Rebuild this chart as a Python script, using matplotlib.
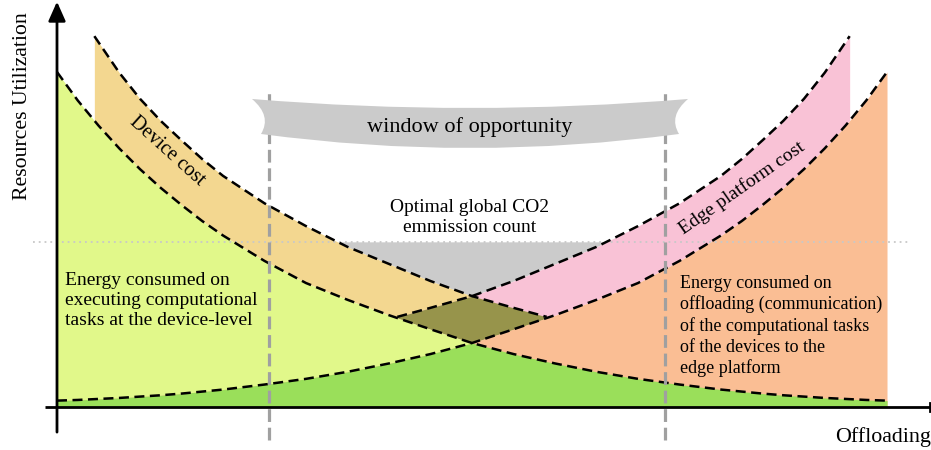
import numpy as np
import matplotlib
matplotlib.use("Agg")
import matplotlib.pyplot as plt
from matplotlib.path import Path
from matplotlib.patches import PathPatch

plt.rcParams['font.family'] = ['Liberation Serif', 'DejaVu Serif']

# ---- data ----
offload = [0, 2.5, 5, 7.5, 10, 12.5, 15, 17.5, 20, 25, 30, 35, 40, 45, 50,
           55, 60, 65, 70, 75, 80, 82.5, 85, 87.5, 90, 92.5, 95, 97.5, 100]
device_energy = [100, 91.5, 84.0, 77.2, 71.0, 65.4, 60.3, 55.5, 51.2, 43.6, 37.0,
                 32.0, 27.4, 23.2, 19.1, 15.8, 13.0, 10.5, 8.4, 6.7, 5.2,
                 4.6, 4.0, 3.5, 3.1, 2.7, 2.4, 2.1, 1.9]
offload_energy = [1.9, 2.1, 2.4, 2.7, 3.1, 3.5, 4.0, 4.6, 5.2, 6.7, 8.4, 10.5, 13.0,
                  15.8, 19.1, 23.2, 27.4, 32.0, 37.0, 43.6, 51.2, 55.5, 60.3,
                  65.4, 71.0, 77.2, 84.0, 91.5, 100]

device_cost_x = [4.5, 7.5, 10, 12.5, 15, 17.5, 20, 25, 30, 35, 40, 45, 50, 55, 59]
device_cost_top = [110.7, 99.8, 92.0, 85.4, 79.6, 74.0, 69.0, 60.8, 54.0, 47.8,
                   42.7, 37.6, 33.1, 29.6, 26.9]
edge_cost_x = [41, 45, 50, 55, 60, 65, 70, 75, 80, 82.5, 85, 87.5, 90, 92.5, 95.5]
edge_cost_top = [26.9, 29.6, 33.1, 37.6, 42.7, 47.8, 54.0, 60.8, 69.0, 74.0,
                 79.6, 85.4, 92.0, 99.8, 110.7]

optimal_level = 49.3
window_bounds = [25.5, 73.3]

# ---- colours ----
c_lgreen = '#E1F88A'
c_dgreen = '#9ADF5A'
c_orange = '#FABE94'
c_tan = '#F3D790'
c_pink = '#F9C2D6'
c_olive = '#97944B'
c_gray = '#CBCBCB'

fig = plt.figure(figsize=(9.31, 4.50), dpi=100)
ax = fig.add_axes([0, 0, 1, 1])
ax.set_xlim(-6.867, 105.30)
ax.set_ylim(-12.84, 121.49)
ax.axis('off')

x = np.array(offload, float)
D = np.array(device_energy, float)
E = np.array(offload_energy, float)
xdu = np.array(device_cost_x, float)
Du = np.array(device_cost_top, float)
xeu = np.array(edge_cost_x, float)
Eu = np.array(edge_cost_top, float)

# fine grid used only for composing fill regions
xf = np.linspace(0, 100, 2001)
Df = np.interp(xf, x, D)
Ef = np.interp(xf, x, E)
Duf = np.interp(xf, xdu, Du)
Euf = np.interp(xf, xeu, Eu)
in_d = (xf >= xdu[0] - 1e-9) & (xf <= xdu[-1] + 1e-9)
in_e = (xf >= xeu[0] - 1e-9) & (xf <= xeu[-1] + 1e-9)

# gray optimal region
Vf = np.where(xf < xeu[0], Duf, np.where(xf > xdu[-1], Euf, np.maximum(Duf, Euf)))
ax.fill_between(xf, Vf, optimal_level, where=Vf < optimal_level, interpolate=True,
                color=c_gray, lw=0, zorder=1)

# cost bands
ax.fill_between(xf, Df, Duf, where=in_d, color=c_tan, lw=0, zorder=2)
ax.fill_between(xf, Ef, Euf, where=in_e, color=c_pink, lw=0, zorder=2)
lo = np.maximum(Df, Ef)
hi = np.minimum(Duf, Euf)
ax.fill_between(xf, lo, hi, where=in_d & in_e & (hi > lo), interpolate=True,
                color=c_olive, lw=0, zorder=3)

# energy areas
ax.fill_between(x, 0, D, color=c_lgreen, lw=0, zorder=4)
ax.fill_between(x, 0, E, color=c_orange, lw=0, zorder=5)
ax.fill_between(xf, 0, np.minimum(Df, Ef), color=c_dgreen, lw=0, zorder=6)

# dashed curves
dash = dict(color='black', lw=1.8, linestyle=(0, (4.0, 2.2)), zorder=8,
            dash_capstyle='butt', dash_joinstyle='round')
ax.plot(x, D, **dash)
ax.plot(x, E, **dash)
ax.plot(xdu, Du, **dash)
ax.plot(xeu, Eu, **dash)

# dotted level line
ax.plot([-2.9, 102.8], [optimal_level, optimal_level], color='#C8C8C8', lw=1.3,
        linestyle=(0, (1, 2.2)), zorder=7)

# window bounds
for wb in window_bounds:
    ax.plot([wb, wb], [-9.85, 95.2], color='#A0A0A0', lw=2.3,
            linestyle=(0, (4, 1.8)), zorder=9)

# banner
def px(pxx, pxy):
    return ((pxx - 57) / 8.3, (407 - pxy) / 3.35)

verts = [px(252, 99), px(470, 117), px(688, 99),
         px(668, 116), px(679, 134),
         px(470, 162), px(261, 134),
         px(272, 116), px(252, 99), px(252, 99)]
codes = [Path.MOVETO, Path.CURVE3, Path.CURVE3,
         Path.CURVE3, Path.CURVE3,
         Path.CURVE3, Path.CURVE3,
         Path.CURVE3, Path.CURVE3, Path.CLOSEPOLY]
ax.add_patch(PathPatch(Path(verts, codes), facecolor=c_gray, edgecolor='none', zorder=10))
ax.text(49.76, 83.6, 'window of opportunity', ha='center', va='center',
        fontsize=16, zorder=11)

# axes arrows
ax.annotate('', xy=(0, 121.0), xytext=(0, -7.5),
            arrowprops=dict(arrowstyle='-|>,head_length=0.9,head_width=0.4',
                            lw=2, color='black', mutation_scale=13, shrinkA=0, shrinkB=0),
            zorder=12)
ax.plot([-1.45, 105.3], [0, 0], color='black', lw=2, zorder=12, solid_capstyle='butt')
ax.plot([105.2, 105.2], [-1.2, 1.2], color='black', lw=2, zorder=12)

# labels
ax.text(-4.2, 89.9, 'Resources Utilization', rotation=90, ha='center', va='center',
        fontsize=15.7)
ax.text(105.25, -9.1, 'Offloading', ha='right', va='center', fontsize=15.8)
ax.text(49.76, 56.7, 'Optimal global CO2\nemmission count', ha='center', va='center',
        fontsize=14, linespacing=1.23, zorder=11)
ax.text(0.96, 31.9, 'Energy consumed on\nexecuting computational\ntasks at the device-level',
        ha='left', va='center', fontsize=14, linespacing=1.23, zorder=11)
ax.text(75.06, 24.2, 'Energy consumed on\noffloading (communication)\nof the computational tasks\n'
        'of the devices to the\nedge platform',
        ha='left', va='center', fontsize=13, linespacing=1.27, zorder=11)
dx, dy = px(167, 151)
ax.text(dx, dy, 'Device cost', rotation=-42, ha='center', va='center', fontsize=14.5,
        rotation_mode='anchor', zorder=11)
ex, ey = px(742, 188)
ax.text(ex, ey, 'Edge platform cost', rotation=35, ha='center', va='center', fontsize=14,
        rotation_mode='anchor', zorder=11)

fig.savefig('out.png', dpi=100)
